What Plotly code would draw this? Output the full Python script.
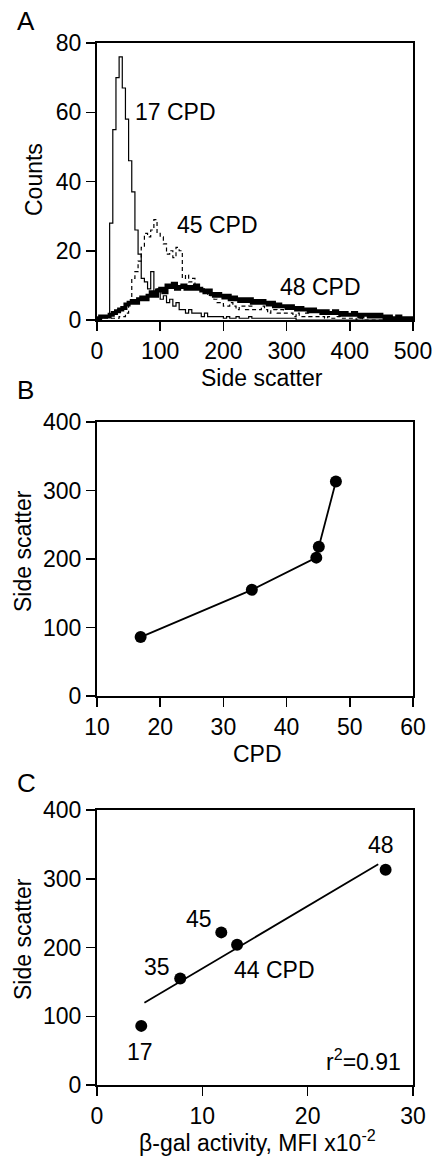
import numpy as np
import plotly.graph_objects as go

# ---------------- Panel A: side-scatter histograms (bins of 5 units) ----------------
bin_width = 5
bin_starts = list(range(0, 500, bin_width))

counts_17cpd = [0.5, 0.5, 1, 1, 28, 55, 70, 76, 67, 58,
                46, 37, 26, 19, 12, 11, 9, 14, 8, 9,
                6, 7, 5, 6, 4, 5, 3, 3, 2, 3,
                2, 2, 2, 1, 2, 1, 1, 1, 1, 1,
                0.5, 1, 0.5, 0.5, 1, 0.5, 0.5, 0.5, 1, 0.5,
                0.5, 0.5, 0.5, 0.5, 0.5, 0.5, 0.5, 0.5, 0.5, 0.5,
                0.5, 0.5, 0.5, 0, 0, 0, 0, 0, 0, 0,
                0, 0, 0, 0, 0, 0, 0, 0, 0, 0,
                0, 0, 0, 0, 0, 0, 0, 0, 0, 0,
                0, 0, 0, 0, 0, 0, 0, 0, 0, 0]

counts_45cpd = [0.5, 0.5, 0.5, 0.5, 0.5, 0.5, 0.5, 1, 1, 2,
                5, 12, 14, 17, 21, 25, 24, 26, 29, 25,
                24, 22, 19, 20, 18, 21, 20, 12, 13, 11,
                12, 10, 9, 9, 8, 7, 7, 6, 5, 5,
                4, 4, 5, 4, 3, 4, 4, 3, 4, 3,
                3, 3, 4, 3, 2, 3, 3, 2, 3, 2,
                2, 2, 1, 2, 1, 1, 2, 1, 1, 1,
                1, 1, 0.5, 1, 0.5, 0.5, 1, 0.5, 0.5, 0.5,
                0.5, 0.5, 0, 0.5, 0, 0, 0, 0, 0, 0,
                0, 0, 0, 0, 0, 0, 0, 0, 0, 0]

counts_48cpd = [0.5, 1, 1, 1, 1.5, 2, 2.5, 3, 3.5, 4.5,
                5, 5.5, 5, 6, 6.5, 6, 7, 8, 7, 8.5,
                9, 8, 10, 9.5, 10.5, 9, 9.5, 10, 9, 9.5,
                9, 10, 9, 8.5, 8, 8.5, 7.5, 7, 7.5, 7,
                6.5, 7, 6, 6.5, 6, 5.5, 6, 5.5, 6, 5,
                5.5, 5, 5.5, 5, 4.5, 5, 4, 4.5, 4, 4,
                3.5, 4, 3.5, 3, 3.5, 3, 3, 2.5, 3, 2.5,
                2.5, 2, 2.5, 2, 2, 2.5, 2, 1.5, 2, 1.5,
                1.5, 2, 1.5, 1, 1.5, 1.5, 1, 1.5, 1, 1.5,
                1, 0.5, 1, 0.5, 0.5, 1, 0.5, 0.5, 0.5, 0.5]

hist_labels = ["17 CPD", "45 CPD", "48 CPD"]
hist_label_x = [57, 123, 287]
hist_label_y = [60, 27.5, 9.5]

# ---------------- Panel B: side scatter vs CPD ----------------
cpd_values = [16.9, 34.5, 44.7, 45.1, 47.8]
side_scatter_b = [86, 155, 202, 218, 313]

# ---------------- Panel C: side scatter vs beta-gal ----------------
bgal_mfi = [4.2, 7.9, 11.8, 13.3, 27.4]
side_scatter_c = [86, 155, 222, 204, 313]
point_labels_c = ["17", "35", "45", "44 CPD", "48"]
point_label_x = [4.05, 5.7, 9.7, 12.8, 27.0]
point_label_y = [48, 172, 242, 167, 349]
fit_x_range = [4.5, 26.7]
r2_text = "r<sup>2</sup>=0.91"

FONT = "Liberation Sans, Arial, sans-serif"
FS = 23
W, H = 437, 1156


def px(x):
    return x / W


def py(y):
    return 1 - y / H


fig = go.Figure()

# Histograms
hx = bin_starts + [500]
styles = [dict(width=1.2, dash="solid"), dict(width=1.2, dash="4px,3px"), dict(width=4, dash="solid")]
for vals, st, name in zip([counts_17cpd, counts_45cpd, counts_48cpd], styles, hist_labels):
    fig.add_trace(go.Scatter(x=hx, y=vals + [vals[-1]], mode="lines", line_shape="hv",
                             line=dict(color="black", width=st["width"], dash=st["dash"]),
                             xaxis="x", yaxis="y", showlegend=False, name=name))

# Panel B
fig.add_trace(go.Scatter(x=cpd_values, y=side_scatter_b, mode="lines+markers",
                         line=dict(color="black", width=1.8),
                         marker=dict(color="black", size=12),
                         xaxis="x2", yaxis="y2", showlegend=False))

# Panel C
slope, intercept = np.polyfit(bgal_mfi, side_scatter_c, 1)
fit_y = [slope * v + intercept for v in fit_x_range]
fig.add_trace(go.Scatter(x=fit_x_range, y=fit_y, mode="lines",
                         line=dict(color="black", width=1.8),
                         xaxis="x3", yaxis="y3", showlegend=False))
fig.add_trace(go.Scatter(x=bgal_mfi, y=side_scatter_c, mode="markers",
                         marker=dict(color="black", size=12),
                         xaxis="x3", yaxis="y3", showlegend=False))

xdom = [px(97), px(413)]
axis_common = dict(showline=True, linecolor="black", linewidth=2, mirror=True,
                   ticks="outside", ticklen=9, tickwidth=1.5, tickcolor="black",
                   showgrid=False, zeroline=False, automargin=False,
                   tickfont=dict(family=FONT, size=FS, color="black"))

fig.update_layout(
    template="none",
    width=W, height=H, autosize=False,
    margin=dict(l=0, r=0, t=0, b=0, pad=0),
    paper_bgcolor="white", plot_bgcolor="white",
    font=dict(family=FONT, size=FS, color="black"),
    xaxis=dict(domain=xdom, range=[0, 500], dtick=100, tick0=0, anchor="y", **axis_common),
    yaxis=dict(domain=[py(320), py(43)], range=[0, 80], dtick=20, tick0=0, anchor="x", **axis_common),
    xaxis2=dict(domain=xdom, range=[10, 60], dtick=10, tick0=10, anchor="y2", **axis_common),
    yaxis2=dict(domain=[py(696), py(422)], range=[0, 400], dtick=100, tick0=0, anchor="x2", **axis_common),
    xaxis3=dict(domain=xdom, range=[0, 30], dtick=10, tick0=0, anchor="y3", **axis_common),
    yaxis3=dict(domain=[py(1085), py(810)], range=[0, 400], dtick=100, tick0=0, anchor="x3", **axis_common),
)

ann = []
# panel letters
for letter, yc in zip(["A", "B", "C"], [21, 390, 783]):
    ann.append(dict(text=letter, x=px(15), y=py(yc), xref="paper", yref="paper",
                    xanchor="left", yanchor="middle", showarrow=False,
                    font=dict(size=26)))
# axis titles
ann.append(dict(text="Counts", x=px(34), y=py(180), xref="paper", yref="paper",
                textangle=-90, showarrow=False, xanchor="center", yanchor="middle"))
ann.append(dict(text="Side scatter", x=px(262), y=py(378), xref="paper", yref="paper",
                showarrow=False, xanchor="center", yanchor="middle"))
ann.append(dict(text="Side scatter", x=px(23), y=py(551), xref="paper", yref="paper",
                textangle=-90, showarrow=False, xanchor="center", yanchor="middle"))
ann.append(dict(text="CPD", x=px(257), y=py(754), xref="paper", yref="paper",
                showarrow=False, xanchor="center", yanchor="middle"))
ann.append(dict(text="Side scatter", x=px(23), y=py(939), xref="paper", yref="paper",
                textangle=-90, showarrow=False, xanchor="center", yanchor="middle"))
ann.append(dict(text="β-gal activity, MFI x10<sup>-2</sup>", x=px(257), y=py(1141),
                xref="paper", yref="paper", showarrow=False, xanchor="center", yanchor="middle"))
# histogram labels
for t, x, y in zip(hist_labels, hist_label_x, hist_label_y):
    ann.append(dict(text=t, x=x, y=y, xref="x", yref="y", showarrow=False,
                    xanchor="left", yanchor="middle"))
# panel C labels
for t, x, y in zip(point_labels_c, point_label_x, point_label_y):
    xa = "left" if t.endswith("CPD") else "center"
    ann.append(dict(text=t, x=x, y=y, xref="x3", yref="y3", showarrow=False,
                    xanchor=xa, yanchor="middle"))
ann.append(dict(text=r2_text, x=25.3, y=36, xref="x3", yref="y3", showarrow=False,
                xanchor="center", yanchor="middle"))
fig.update_layout(annotations=ann)

fig.write_html("out.html", config={"displayModeBar": False, "staticPlot": True},
               post_script="document.body.style.margin='0';document.body.style.padding='0';"
                           "document.body.style.overflow='hidden';"
                           "document.documentElement.style.overflow='hidden';")
